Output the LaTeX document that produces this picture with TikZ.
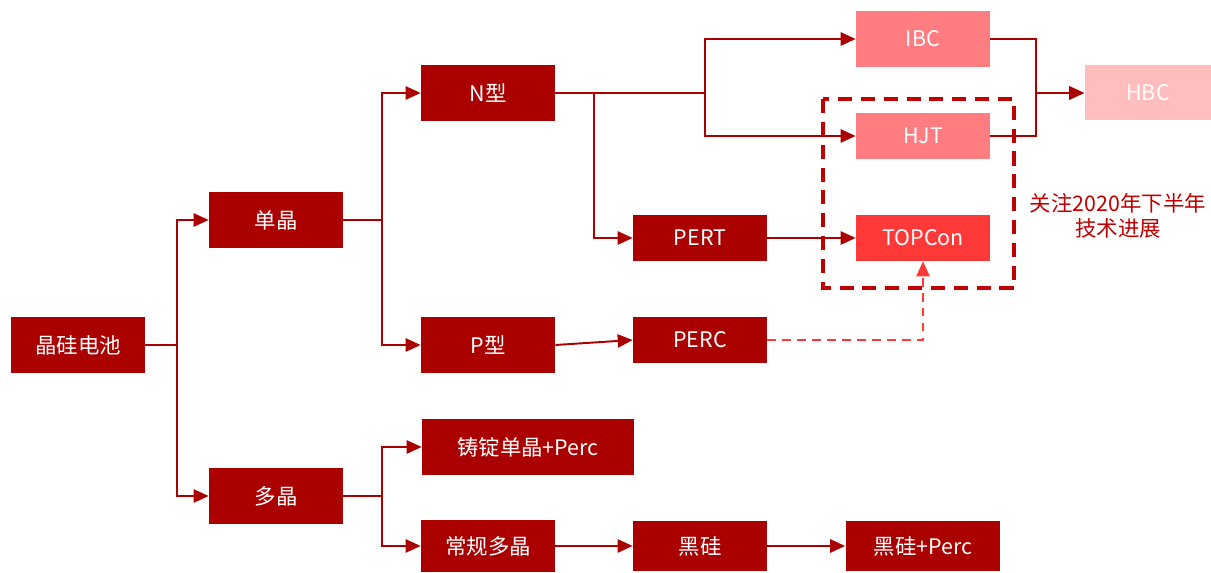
\documentclass[tikz,border=0pt]{standalone}
\usepackage{fontspec}
\setmainfont{Noto Sans CJK SC}
\usepackage{tikz}
\usetikzlibrary{arrows.meta}
\definecolor{darkred}{HTML}{AA0000}
\definecolor{pinkred}{HTML}{FF7C80}
\definecolor{brightred}{HTML}{FF3838}
\definecolor{palered}{HTML}{FFBDBD}
\definecolor{notered}{HTML}{C00000}
\tikzset{
  box/.style={fill=darkred, text=white, inner sep=0pt, font=\fontsize{12.2}{14}\selectfont,
    minimum width=2.68cm, minimum height=1.12cm},
  lowbox/.style={box, minimum height=0.92cm},
  conn/.style={draw=darkred, line width=1.1pt},
  arr/.style={conn, -{Triangle[length=8.5pt,width=7.5pt]}},
}

\begin{document}
\begin{tikzpicture}[x=0.02cm,y=-0.02cm]
\useasboundingbox (0,0) rectangle (1211,573);
% boxes
\node[box] (jg) at (78,345) {晶硅电池};
\node[box] (dj) at (276,220) {单晶};
\node[box] (dgj) at (276,496) {多晶};
\node[box] (nx) at (488,93) {N型};
\node[box] (px) at (488,345) {P型};
\node[box, minimum width=4.24cm] (zd) at (528,447) {铸锭单晶+Perc};
\node[box, minimum height=1.04cm] (cg) at (488,546) {常规多晶};
\node[box, minimum height=1.02cm] (hg) at (700,546) {黑硅};
\node[box, minimum height=1.02cm, minimum width=3.1cm] (hgp) at (923,546) {黑硅+Perc};
\node[lowbox] (pert) at (700,238) {PERT};
\node[lowbox] (perc) at (700,340) {PERC};
\node[box, fill=pinkred] (ibc) at (923,39) {IBC};
\node[lowbox, fill=pinkred] (hjt) at (923,136) {HJT};
\node[lowbox, fill=brightred] (topcon) at (923,238) {TOPCon};
\node[box, fill=palered, minimum width=2.54cm, minimum height=1.1cm] (hbc) at (1148,93) {HBC};
% focus frame
\draw[notered, line width=2pt, dash pattern=on 8pt off 5pt] (823,99) rectangle (1014,288);
\node[text=notered, align=center, font=\fontsize{12.2}{14}\selectfont] (note) at (1118,216) {关注2020年下半年\\技术进展};
% connectors
\draw[arr] (jg.east) -- ++(32,0) |- (dj.west);
\draw[arr] (jg.east) -- ++(32,0) |- (dgj.west);
\draw[arr] (dj.east) -- ++(39,0) |- (nx.west);
\draw[arr] (dj.east) -- ++(39,0) |- (px.west);
\draw[arr] (dgj.east) -- ++(39,0) |- (zd.west);
\draw[arr] (dgj.east) -- ++(39,0) |- (cg.west);
\draw[arr] (nx.east) -- ++(150,0) |- (ibc.west);
\draw[arr] (nx.east) -- ++(150,0) |- (hjt.west);
\draw[arr] (nx.east) -- ++(39,0) |- (pert.west);
\draw[arr] (pert) -- (topcon);
\draw[arr] (px.east) -- (perc.west);
\draw[arr, draw=brightred, dash pattern=on 5pt off 3.5pt] (perc.east) -| (topcon.south);
\draw[arr] (ibc.east) -- ++(46,0) |- (hbc.west);
\draw[arr] (hjt.east) -- ++(46,0) |- (hbc.west);
\draw[arr] (cg) -- (hg);
\draw[arr] (hg) -- (hgp);
\end{tikzpicture}
\end{document}
